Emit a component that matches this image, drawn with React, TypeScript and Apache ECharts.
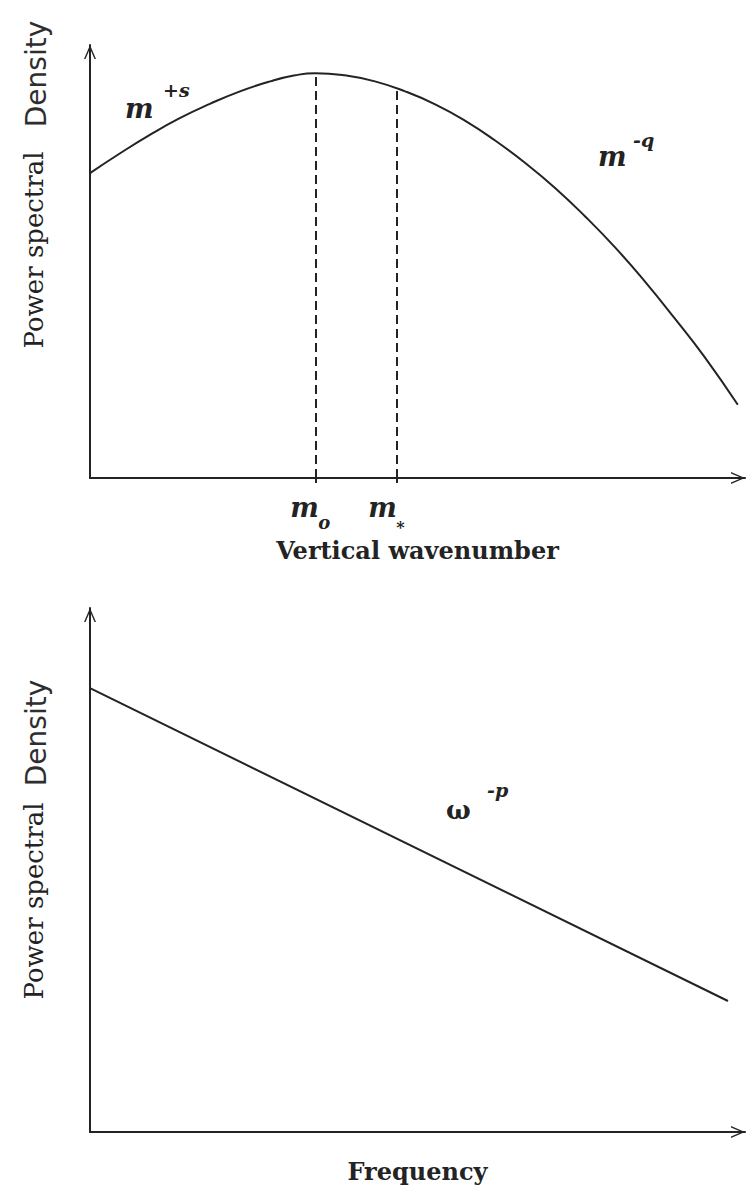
import { useEffect, useRef } from "react";
import * as echarts from "echarts";

// Upper panel: power spectral density against vertical wavenumber (arbitrary units, 0–100)
const wavenumber = [0, 4.6, 9.2, 13.7, 18.3, 22.9, 27.5, 31.3, 34.4, 38.9, 43.5, 48.1, 52.7, 57.3, 61.8, 66.4, 71.0, 75.6, 80.2, 84.7, 89.3, 93.9, 98.9];
const wavenumberPsd = [70.4, 75.0, 79.3, 83.1, 86.4, 89.3, 91.6, 93.0, 93.5, 93.0, 91.6, 89.3, 86.3, 82.5, 78.0, 72.8, 67.0, 60.4, 53.2, 45.4, 36.8, 27.8, 16.9];

// Characteristic wavenumbers m_o and m_* and the spectrum level at each
const charWavenumbers = [34.4, 46.9];
const charWavenumberPsd = [93.5, 89.9];

// Lower panel: power spectral density against frequency (arbitrary units, 0–100)
const frequency = [0, 97.4];
const frequencyPsd = [84.7, 25.0];

const INK = "#232323";
const SERIF = "DejaVu Serif";
const ARROW = "path://M0 0L6 14L4.5 14L0 3.4L-4.5 14L-6 14Z";

const axisLine = {
  show: true,
  symbol: ["none", ARROW],
  symbolSize: [12, 14],
  symbolOffset: [0, -7],
  lineStyle: { color: INK, width: 2 },
};

const bareAxis = {
  type: "value" as const,
  min: 0,
  max: 100,
  axisLine,
  axisTick: { show: false },
  axisLabel: { show: false },
  splitLine: { show: false },
};

const axisNameStyle = { fontFamily: SERIF, fontWeight: "bold" as const, fontSize: 24, color: INK };

function mathText(text: string, x: number, y: number, size: number, italic = true) {
  return {
    type: "text",
    x,
    y,
    silent: true,
    style: {
      text,
      fontFamily: SERIF,
      fontSize: size,
      fontWeight: "bold",
      fontStyle: italic ? "italic" : "normal",
      fill: INK,
      textAlign: "left",
      textVerticalAlign: "middle",
    },
  };
}

function yTitle(cy: number) {
  return {
    type: "text",
    x: 34,
    y: cy,
    rotation: Math.PI / 2,
    silent: true,
    style: {
      text: "Power spectral",
      fontFamily: SERIF,
      fontSize: 26,
      fill: INK,
      textAlign: "center",
      textVerticalAlign: "middle",
    },
  };
}

function densityWord(cy: number) {
  return {
    type: "text",
    x: 36,
    y: cy,
    rotation: Math.PI / 2,
    silent: true,
    style: {
      text: "Density",
      fontFamily: "DejaVu Sans",
      fontSize: 28,
      fill: "#2e2e2e",
      textAlign: "center",
      textVerticalAlign: "middle",
    },
  };
}

export default function App() {
  const ref = useRef<HTMLDivElement>(null);

  useEffect(() => {
    document.body.style.margin = "0";
    if (!ref.current) return;
    const chart = echarts.init(ref.current, null, { renderer: "svg" });

    const option: any = {
      animation: false,
      backgroundColor: "#ffffff",
      grid: [
        { left: 90, right: 1, top: 45, height: 433, containLabel: false },
        { left: 90, right: 1, top: 608, height: 524, containLabel: false },
      ],
      xAxis: [
        {
          ...bareAxis,
          gridIndex: 0,
          axisTick: {
            show: true,
            customValues: charWavenumbers,
            length: 5,
            lineStyle: { color: INK, width: 2 },
          },
          name: "Vertical wavenumber",
          nameLocation: "middle",
          nameGap: 60,
          nameTextStyle: axisNameStyle,
        },
        {
          ...bareAxis,
          gridIndex: 1,
          name: "Frequency",
          nameLocation: "middle",
          nameGap: 27,
          nameTextStyle: axisNameStyle,
        },
      ],
      yAxis: [
        { ...bareAxis, gridIndex: 0 },
        { ...bareAxis, gridIndex: 1 },
      ],
      series: [
        {
          type: "line",
          xAxisIndex: 0,
          yAxisIndex: 0,
          data: wavenumber.map((m, i) => [m, wavenumberPsd[i]]),
          smooth: 0.5,
          symbol: "none",
          lineStyle: { color: INK, width: 2 },
          markLine: {
            silent: true,
            symbol: ["none", "none"],
            label: { show: false },
            lineStyle: { color: INK, width: 2, type: [9, 5] },
            data: charWavenumbers.map((m, i) => [
              { coord: [m, 0] },
              { coord: [m, charWavenumberPsd[i]] },
            ]),
          },
        },
        {
          type: "line",
          xAxisIndex: 1,
          yAxisIndex: 1,
          data: frequency.map((f, i) => [f, frequencyPsd[i]]),
          symbol: "none",
          lineStyle: { color: INK, width: 2 },
        },
      ],
    };

    chart.setOption(option);

    // Tick labels m_o and m_* placed from the axis scale
    const [xo] = chart.convertToPixel({ xAxisIndex: 0, yAxisIndex: 0 }, [charWavenumbers[0], 0]) as number[];
    const [xs] = chart.convertToPixel({ xAxisIndex: 0, yAxisIndex: 0 }, [charWavenumbers[1], 0]) as number[];

    chart.setOption({
      graphic: [
        yTitle(250),
        densityWord(74),
        yTitle(901),
        densityWord(733),
        mathText("m", 125, 108, 27),
        mathText("+s", 163, 90, 19),
        mathText("m", 598, 156, 27),
        mathText("-q", 633, 140, 19),
        mathText("ω", 446, 810, 26, false),
        mathText("-p", 487, 790, 19),
        mathText("m", xo - 25, 507, 27),
        mathText("o", xo + 3, 522, 18),
        mathText("m", xs - 29, 507, 27),
        mathText("*", xs - 1, 527, 16, false),
      ],
    });

    return () => chart.dispose();
  }, []);

  return <div ref={ref} style={{ width: 746, height: 1192 }} />;
}
